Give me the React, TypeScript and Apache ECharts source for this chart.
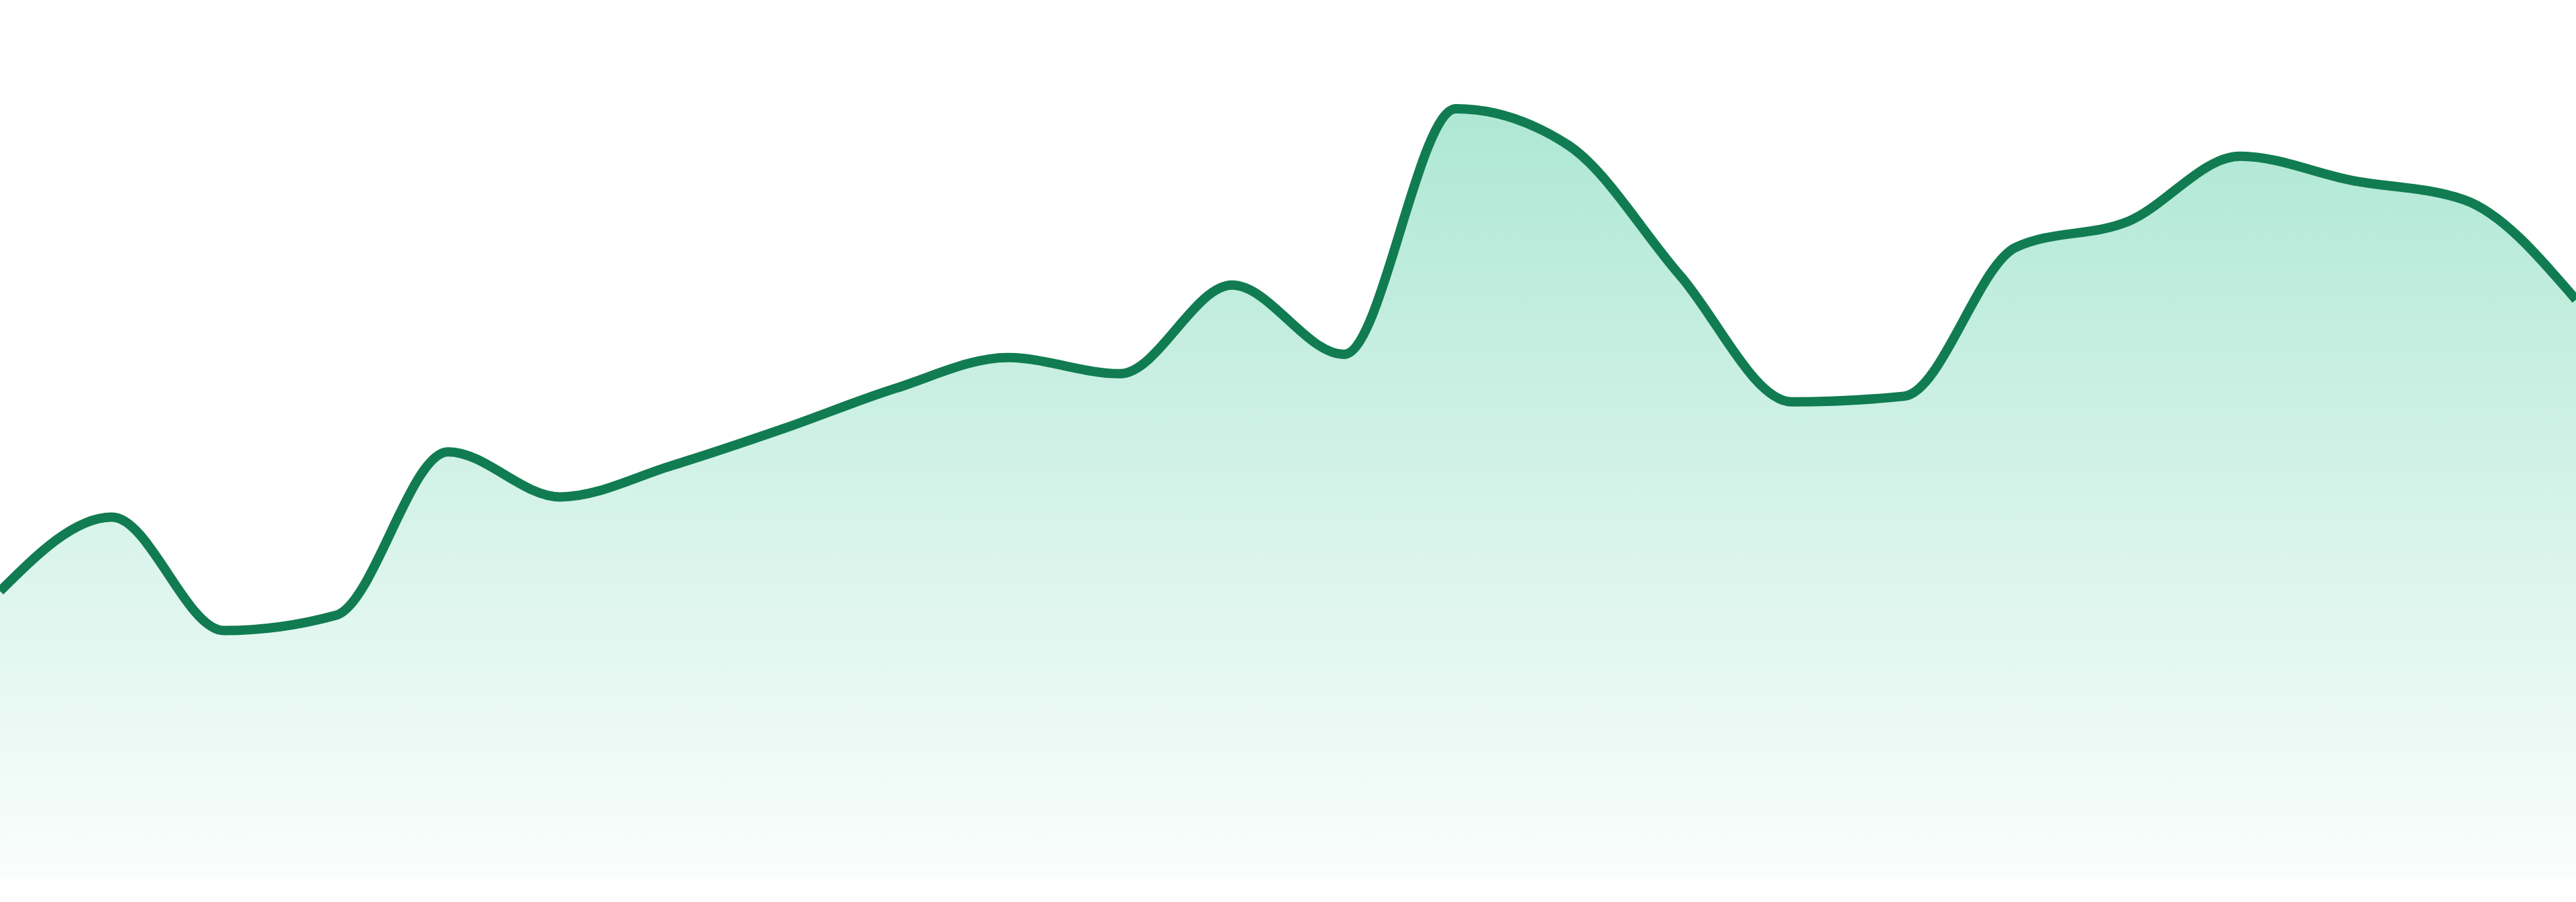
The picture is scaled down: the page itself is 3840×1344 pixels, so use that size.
import * as echarts from "echarts";
import { useEffect, useRef } from "react";

const categories = [
  "01", "02", "03", "04", "05", "06", "07", "08", "09", "10", "11", "12",
  "13", "14", "15", "16", "17", "18", "19", "20", "21", "22", "23", "24"
];

const values = [
  35.6, 44.8, 30.7, 32.6, 52.9, 47.3, 51.2, 55.8, 60.8, 64.6, 62.6, 73.6,
  65.0, 95.5, 91.0, 74.8, 59.1, 59.8, 78.3, 81.5, 89.6, 86.6, 84.2, 71.8
];

const lineColor = "#117c52";

// monotone-x cubic (same maths as d3.curveMonotoneX), applied to pixel points
function tangentAt(p0: number[], p1: number[], p2: number[]) {
  const h0 = p1[0] - p0[0];
  const h1 = p2[0] - p1[0];
  const s0 = (p1[1] - p0[1]) / h0;
  const s1 = (p2[1] - p1[1]) / h1;
  const p = (s0 * h1 + s1 * h0) / (h0 + h1);
  const sign = (x: number) => (x < 0 ? -1 : 1);
  return (sign(s0) + sign(s1)) * Math.min(Math.abs(s0), Math.abs(s1), 0.5 * Math.abs(p)) || 0;
}

function monotonePath(points: number[][]) {
  const n = points.length;
  const t: number[] = new Array(n).fill(0);
  for (let i = 1; i < n - 1; i++) {
    t[i] = tangentAt(points[i - 1], points[i], points[i + 1]);
  }
  const h0 = points[1][0] - points[0][0];
  t[0] = (3 * (points[1][1] - points[0][1]) / h0 - t[1]) / 2;
  const hn = points[n - 1][0] - points[n - 2][0];
  t[n - 1] = (3 * (points[n - 1][1] - points[n - 2][1]) / hn - t[n - 2]) / 2;

  let d = `M${points[0][0]},${points[0][1]}`;
  for (let i = 0; i < n - 1; i++) {
    const [x0, y0] = points[i];
    const [x1, y1] = points[i + 1];
    const dx = (x1 - x0) / 3;
    d += ` C${x0 + dx},${y0 + dx * t[i]} ${x1 - dx},${y1 - dx * t[i + 1]} ${x1},${y1}`;
  }
  return d;
}

function buildOption(): echarts.EChartsCoreOption {
  return {
    animation: false,
    grid: { left: 0, right: 0, top: 108, bottom: 36 },
    xAxis: {
      type: "category",
      data: categories,
      boundaryGap: false,
      show: false
    },
    yAxis: {
      type: "value",
      min: 0,
      max: 100,
      show: false
    },
    series: [
      {
        type: "custom",
        data: values.map((v, i) => [i, v]),
        encode: { x: 0, y: 1 },
        renderItem: (params: any, api: any) => {
          if (params.dataIndex !== 0) {
            return null;
          }
          const points = values.map((v, i) => api.coord([i, v]));
          const base = api.coord([0, 0])[1];
          const line = monotonePath(points);
          const last = points[points.length - 1];
          return {
            type: "group",
            children: [
              {
                type: "path",
                silent: true,
                shape: { pathData: `${line} L${last[0]},${base} L${points[0][0]},${base} Z` },
                style: {
                  fill: new echarts.graphic.LinearGradient(0, 0, 0, 1, [
                    { offset: 0, color: "rgba(16, 185, 129, 0.34)" },
                    { offset: 1, color: "rgba(16, 185, 129, 0.02)" }
                  ]),
                  stroke: "none"
                }
              },
              {
                type: "path",
                silent: true,
                shape: { pathData: line },
                style: { fill: "none", stroke: lineColor, lineWidth: 14, lineJoin: "round" }
              }
            ]
          };
        }
      }
    ]
  };
}

export default function App() {
  const elementRef = useRef<HTMLDivElement | null>(null);

  useEffect(() => {
    if (!elementRef.current) {
      return;
    }
    const chart = echarts.init(elementRef.current, undefined, { renderer: "svg" });
    chart.setOption(buildOption());
    return () => {
      chart.dispose();
    };
  }, []);

  return (
    <div
      ref={elementRef}
      style={{ position: "fixed", left: 0, top: 0, width: 3840, height: 1344, background: "#ffffff" }}
    />
  );
}
